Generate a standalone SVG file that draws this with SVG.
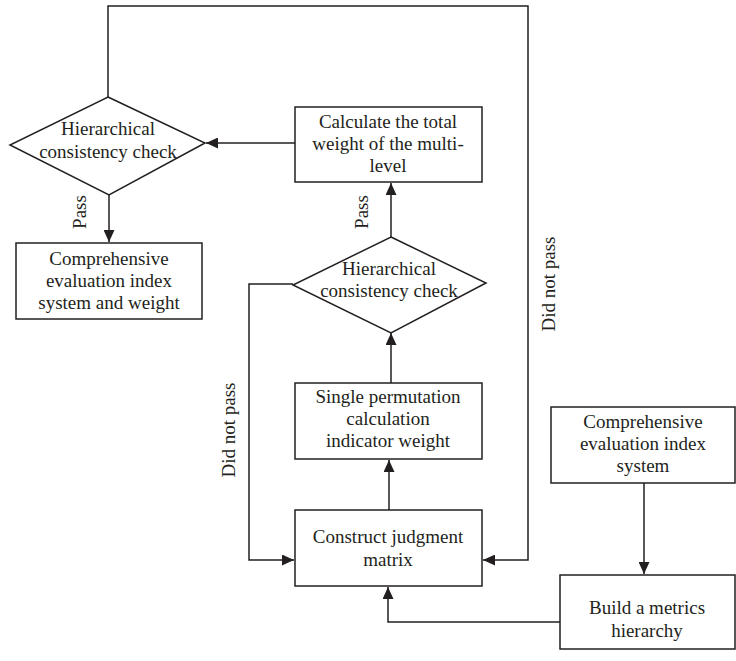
<svg xmlns="http://www.w3.org/2000/svg" width="736" height="661" viewBox="0 0 736 661">
<style>
.box{fill:#fff;stroke:#231f20;stroke-width:1.5}
.ln{fill:none;stroke:#231f20;stroke-width:1.5}
text{font-family:"Liberation Serif","Times New Roman",serif;font-size:19px;fill:#231f20;text-anchor:middle}
</style>
<defs>
<marker id="ah" markerUnits="userSpaceOnUse" markerWidth="13" markerHeight="11" refX="12" refY="5.5" orient="auto">
<path d="M0,0 L12,5.5 L0,11 z" fill="#231f20"/>
</marker>
</defs>
<rect width="736" height="661" fill="#fff"/>
<g id="connectors">
<polyline class="ln" points="108,97 108,6 528,6 528,560 483,560" marker-end="url(#ah)"/>
<line class="ln" x1="295" y1="143" x2="206" y2="143" marker-end="url(#ah)"/>
<line class="ln" x1="109" y1="195" x2="109" y2="242" marker-end="url(#ah)"/>
<line class="ln" x1="391" y1="237" x2="391" y2="183" marker-end="url(#ah)"/>
<polyline class="ln" points="293,284 249,284 249,560 294,560" marker-end="url(#ah)"/>
<line class="ln" x1="391" y1="383" x2="391" y2="333" marker-end="url(#ah)"/>
<line class="ln" x1="389" y1="510" x2="389" y2="460" marker-end="url(#ah)"/>
<polyline class="ln" points="560,622 388,622 388,587" marker-end="url(#ah)"/>
<line class="ln" x1="644" y1="483" x2="644" y2="574" marker-end="url(#ah)"/>
<text transform="translate(80,212) rotate(-90)" y="6">Pass</text>
<text transform="translate(362,212) rotate(-90)" y="6">Pass</text>
<text transform="translate(229,430) rotate(-90)" y="6">Did not pass</text>
<text transform="translate(549,284) rotate(-90)" y="6">Did not pass</text>
</g>
<g id="check1">
<polygon class="box" points="108,97 205,143 109,195 10,145"/>
<text x="108" y="135">Hierarchical</text>
<text x="108" y="158">consistency check</text>
</g>
<g id="calc-total">
<rect class="box" x="295" y="107" width="187" height="75"/>
<text x="388" y="128">Calculate the total</text>
<text x="388" y="150">weight of the multi-</text>
<text x="388" y="172">level</text>
</g>
<g id="result">
<rect class="box" x="16" y="243" width="186" height="76"/>
<text x="109" y="265">Comprehensive</text>
<text x="109" y="287">evaluation index</text>
<text x="109" y="309">system and weight</text>
</g>
<g id="check2">
<polygon class="box" points="391,237 486,283 391,333 293,285"/>
<text x="389" y="275">Hierarchical</text>
<text x="389" y="297">consistency check</text>
</g>
<g id="single">
<rect class="box" x="295" y="383" width="187" height="76"/>
<text x="388" y="403">Single permutation</text>
<text x="388" y="425">calculation</text>
<text x="388" y="447">indicator weight</text>
</g>
<g id="construct">
<rect class="box" x="295" y="510" width="187" height="76"/>
<text x="388" y="543">Construct judgment</text>
<text x="388" y="566">matrix</text>
</g>
<g id="index-system">
<rect class="box" x="551" y="407" width="184" height="76"/>
<text x="643" y="428">Comprehensive</text>
<text x="643" y="450">evaluation index</text>
<text x="643" y="472">system</text>
</g>
<g id="hierarchy">
<rect class="box" x="560" y="575" width="175" height="74"/>
<text x="647" y="614">Build a metrics</text>
<text x="647" y="637">hierarchy</text>
</g>
</svg>
